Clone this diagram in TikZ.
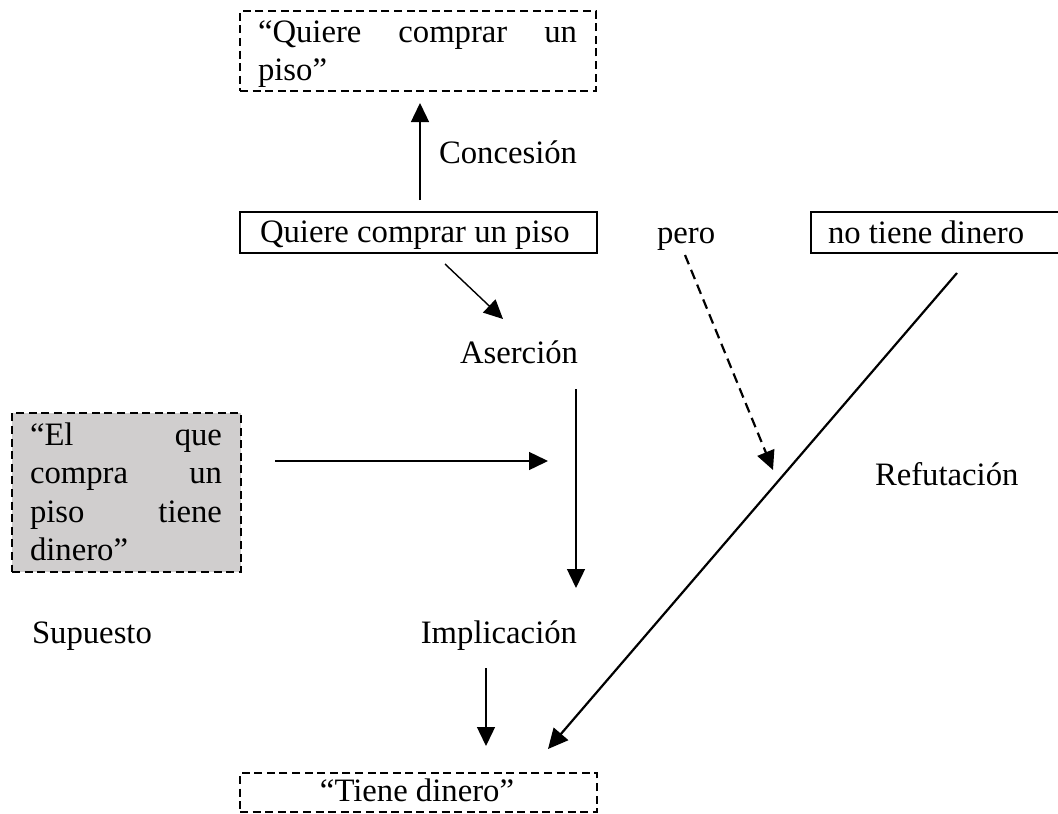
\documentclass[tikz,border=0pt]{standalone}
\usepackage{fontspec}
\setmainfont{Liberation Serif}
\usetikzlibrary{arrows.meta}
\definecolor{boxgray}{RGB}{208,206,206}
\tikzset{
  txt/.style={anchor=base west, inner sep=0pt, outer sep=0pt, font=\fontsize{32.7}{38}\selectfont},
  frame/.style={draw, line width=2.2pt, inner sep=0pt, outer sep=0pt, anchor=north west},
  dframe/.style={frame, line width=2.4pt, dash pattern=on 8pt off 4.6pt},
  arr/.style={line width=1.4pt, -{Triangle[length=19pt,width=18pt]}},
  darr/.style={line width=2.2pt, dash pattern=on 10pt off 6pt, -{Triangle[length=19pt,width=18pt]}},
  larr/.style={line width=2.2pt, -{Triangle[length=20pt,width=19pt]}}
}
\begin{document}
\begin{tikzpicture}[x=1pt,y=-1pt]
\useasboundingbox (0,0) rectangle (1058,814);
% boxes
\node[dframe, minimum width=356pt, minimum height=80pt] (qtop) at (240,11) {};
\node[frame, minimum width=357pt, minimum height=41pt] (qmain) at (240,212) {};
\node[frame, minimum width=260pt, minimum height=41pt] (nodin) at (811,212) {};
\node[dframe, fill=boxgray, minimum width=229pt, minimum height=159pt] (gbox) at (12,413) {};
\node[dframe, minimum width=357pt, minimum height=39pt] (tbox) at (240,773) {};
% texts
\node[txt] (tqtop) at (258,42) {\parbox[t]{319pt}{\fontsize{32.7}{38}\selectfont “Quiere\hfill comprar\hfill un\\piso”}};
\node[txt] (tqmain) at (260,242) {Quiere comprar un piso};
\node[txt] (tpero) at (657,243) {pero};
\node[txt] (tnodin) at (828,243) {no tiene dinero};
\node[txt] (tconc) at (439,163) {Concesión};
\node[txt] (taser) at (460,363) {Aserción};
\node[txt] (trefu) at (875,485) {Refutación};
\node[txt] (tgbox) at (30,445) {\parbox[t]{192pt}{\fontsize{32.7}{38.5}\selectfont “El\hfill que\\compra\hfill un\\piso\hfill tiene\\dinero”}};
\node[txt] (tsup) at (32,643) {Supuesto};
\node[txt, anchor=base east] (timpl) at (577,643) {Implicación};
\node[txt, anchor=base] (ttbox) at (417,801) {“Tiene dinero”};
% connector ends
\coordinate (c1s) at (420,200); \coordinate (c1e) at (420,103);
\coordinate (c2s) at (445,264); \coordinate (c2e) at (503,319);
\coordinate (c3s) at (576,389); \coordinate (c3e) at (576,588);
\coordinate (c4s) at (275,461); \coordinate (c4e) at (548,461);
\coordinate (c5s) at (685,255); \coordinate (c5e) at (773,470);
\coordinate (c6s) at (957,273); \coordinate (c6e) at (548,749);
\coordinate (c7s) at (486,668); \coordinate (c7e) at (486,746);
% connectors
\draw[arr] (c1s) -- (c1e);
\draw[arr] (c2s) -- (c2e);
\draw[arr] (c3s) -- (c3e);
\draw[arr] (c4s) -- (c4e);
\draw[darr] (c5s) -- (c5e);
\draw[larr] (c6s) -- (c6e);
\draw[arr] (c7s) -- (c7e);
\end{tikzpicture}
\end{document}
